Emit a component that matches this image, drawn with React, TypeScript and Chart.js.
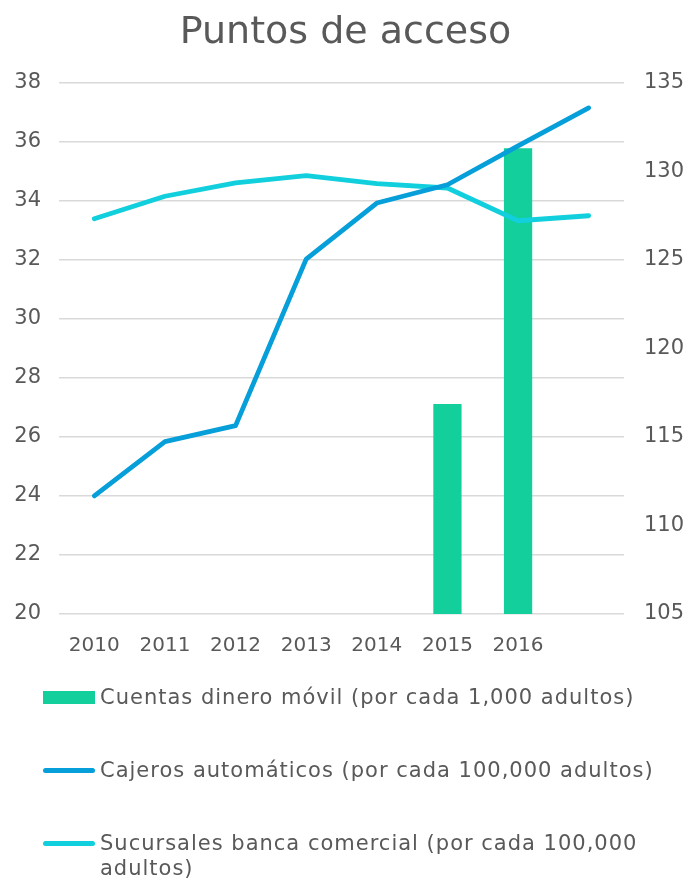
import React, { useEffect, useRef } from "react";
import { Chart, registerables } from "chart.js";

Chart.register(...registerables);

const titleText = "Puntos de acceso";
const categories = ["2010", "2011", "2012", "2013", "2014", "2015", "2016", ""];
const cuentasDineroMovil = [null, null, null, null, null, 116.85, 131.3, null];
const cajerosAutomaticos = [24.0, 25.84, 26.38, 32.02, 33.92, 34.54, 35.86, 37.14];
const sucursalesBanca = [33.39, 34.15, 34.6, 34.85, 34.58, 34.43, 33.32, 33.49];
const leftAxis = { min: 20, max: 38, step: 2 };
const rightAxis = { min: 105, max: 135, step: 5 };
const seriesNames = [
  "Cuentas dinero móvil (por cada 1,000 adultos)",
  "Cajeros automáticos (por cada 100,000 adultos)",
  "Sucursales banca comercial (por cada 100,000 adultos)",
];

const GREEN = "#13CF9B";
const BLUE = "#069FD9";
const CYAN = "#11CFDC";
const TEXT = "#595959";
const FONT = "'DejaVu Sans', sans-serif";

export default function App() {
  const ref = useRef<HTMLCanvasElement | null>(null);

  useEffect(() => {
    if (!ref.current) return;
    const chart = new Chart(ref.current, {
      type: "bar",
      data: {
        labels: categories,
        datasets: [
          {
            type: "bar",
            label: seriesNames[0],
            data: cuentasDineroMovil as any,
            backgroundColor: GREEN,
            yAxisID: "y1",
            categoryPercentage: 1,
            barPercentage: 0.4,
            order: 3,
          },
          {
            type: "line",
            label: seriesNames[1],
            data: cajerosAutomaticos,
            borderColor: BLUE,
            backgroundColor: BLUE,
            borderWidth: 4.8,
            pointRadius: 0,
            borderCapStyle: "round",
            borderJoinStyle: "round",
            yAxisID: "y",
            order: 1,
          },
          {
            type: "line",
            label: seriesNames[2],
            data: sucursalesBanca,
            borderColor: CYAN,
            backgroundColor: CYAN,
            borderWidth: 4.8,
            pointRadius: 0,
            borderCapStyle: "round",
            borderJoinStyle: "round",
            yAxisID: "y",
            order: 2,
          },
        ] as any,
      },
      options: {
        animation: false,
        responsive: false,
        layout: { padding: { top: 0, bottom: 216, left: 0, right: 0 } },
        plugins: {
          legend: { display: false },
          tooltip: { enabled: false },
          title: {
            display: true,
            text: titleText,
            color: TEXT,
            font: { family: FONT, size: 38, weight: "normal", lineHeight: 1.2 },
            padding: { top: 10, bottom: 27 },
          },
        },
        scales: {
          x: {
            grid: { display: false },
            border: { display: false },
            ticks: {
              color: TEXT,
              font: { family: FONT, size: 20 },
              padding: 12,
              maxRotation: 0,
              autoSkip: false,
            },
            afterFit: (s: any) => {
              s.height = 50;
            },
          },
          y: {
            position: "left",
            min: leftAxis.min,
            max: leftAxis.max,
            ticks: {
              stepSize: leftAxis.step,
              color: TEXT,
              font: { family: FONT, size: 21 },
              padding: 18,
            },
            grid: { color: "#D9D9D9", lineWidth: 1.5, drawTicks: false },
            border: { display: false },
            afterFit: (s: any) => {
              s.width = 59;
            },
          },
          y1: {
            position: "right",
            min: rightAxis.min,
            max: rightAxis.max,
            ticks: {
              stepSize: rightAxis.step,
              color: TEXT,
              font: { family: FONT, size: 21 },
              padding: 20,
            },
            grid: { display: false, drawTicks: false },
            border: { display: false },
            afterFit: (s: any) => {
              s.width = 67;
            },
          },
        },
      } as any,
    });
    return () => chart.destroy();
  }, []);

  const textStyle: React.CSSProperties = {
    position: "absolute",
    left: 100,
    width: 570,
    fontFamily: FONT,
    fontSize: 21,
    letterSpacing: "1px",
    lineHeight: "25px",
    color: TEXT,
    whiteSpace: "normal",
  };

  return (
    <div style={{ position: "absolute", left: 0, top: 0, width: 691, height: 880, overflow: "hidden", background: "#fff" }}>
      <canvas ref={ref} width={691} height={880} style={{ display: "block" }} />
      <div style={{ position: "absolute", left: 43, top: 691, width: 52, height: 13, background: GREEN }} />
      <div style={{ ...textStyle, top: 685 }}>{seriesNames[0]}</div>
      <div style={{ position: "absolute", left: 43, top: 768, width: 52, height: 5, borderRadius: 3, background: BLUE }} />
      <div style={{ ...textStyle, top: 758 }}>{seriesNames[1]}</div>
      <div style={{ position: "absolute", left: 43, top: 841, width: 52, height: 5, borderRadius: 3, background: CYAN }} />
      <div style={{ ...textStyle, top: 831 }}>{seriesNames[2]}</div>
    </div>
  );
}
